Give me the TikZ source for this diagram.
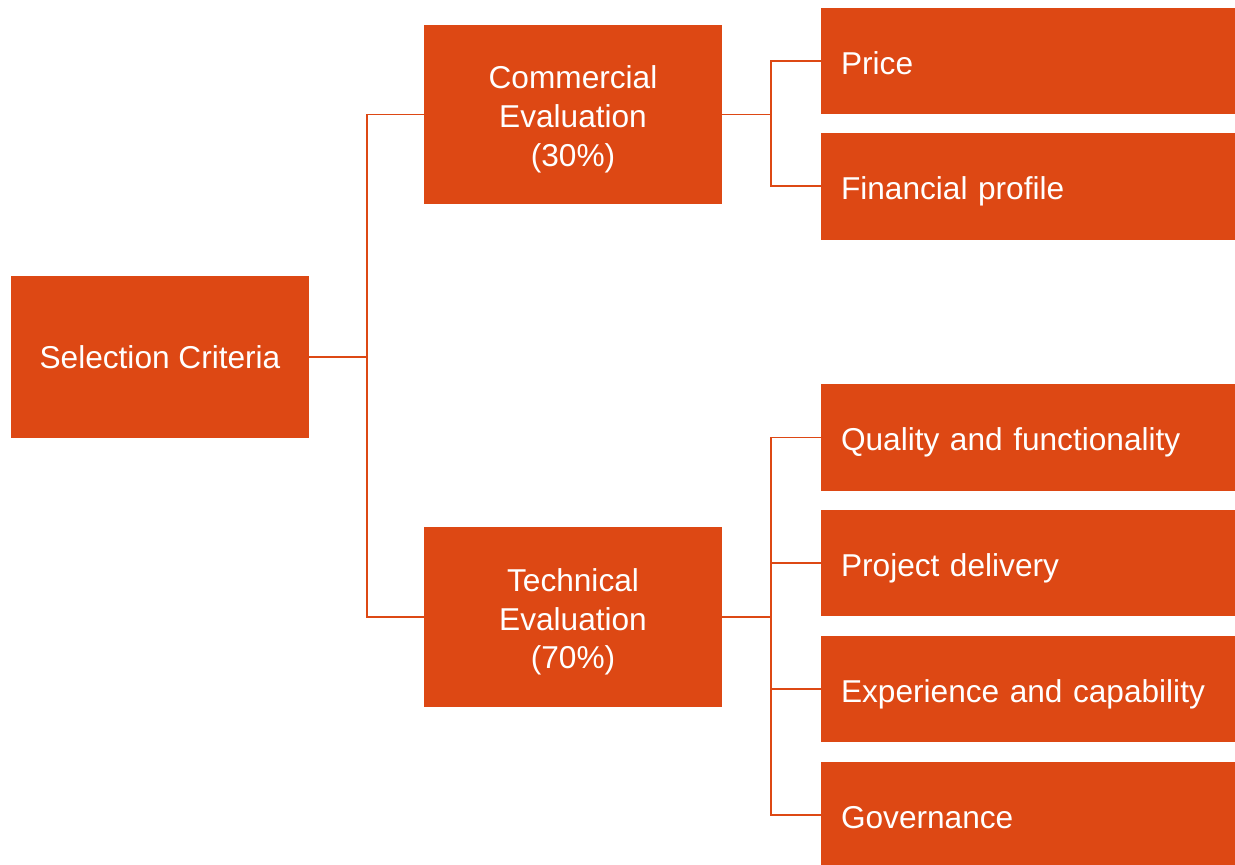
\documentclass[tikz,border=0pt]{standalone}
\usepackage{fontspec}
\setmainfont{Liberation Sans}
\definecolor{cam}{HTML}{DD4814}
\newcommand\tren{\rule{0pt}{18.6pt}}
\begin{document}
\begin{tikzpicture}[x=0.02cm,y=-0.02cm,font=\fontsize{18}{22.1}\selectfont,
	khoi/.style={fill=cam,text=white,inner sep=0pt,align=center,minimum width=5.96cm},
	ba/.style={khoi,minimum height=3.6cm},
	la/.style={fill=cam,text=white,inner ysep=0pt,inner xsep=0.4cm,text width=7.48cm,align=left,minimum height=2.14cm,text height=15pt,text depth=0pt},
	noi/.style={draw=cam,line width=1.1pt}]
	\useasboundingbox (0,0) rectangle (1235,865);
	% cot trai va cot giua
	\node[khoi,minimum height=3.24cm] (sc) at (160,357) {Selection Criteria};
	\node[ba] (ce) at (573,114.5) {\tren Commercial\\Evaluation\\(30\%)};
	\node[ba] (te) at (573,617) {\tren Technical\\Evaluation\\(70\%)};
	% cot phai
	\node[la] (price) at (1028,61) {Price};
	\node[la] (fin) at (1028,186.4) {Financial profile};
	\node[la] (qual) at (1028,437.5) {Quality and functionality};
	\node[la] (proj) at (1028,563) {Project delivery};
	\node[la] (expe) at (1028,689) {Experience and capability};
	\node[la] (gov) at (1028,815) {Governance};
	% duong noi
	\draw[noi] (sc.east) -- +(58,0) |- (ce.west);
	\draw[noi] (sc.east) -- +(58,0) |- (te.west);
	\foreach \b in {price,fin}
		\draw[noi] (ce.east) -- +(49,0) |- (\b.west);
	\foreach \b in {qual,proj,expe,gov}
		\draw[noi] (te.east) -- +(49,0) |- (\b.west);
\end{tikzpicture}
\end{document}
